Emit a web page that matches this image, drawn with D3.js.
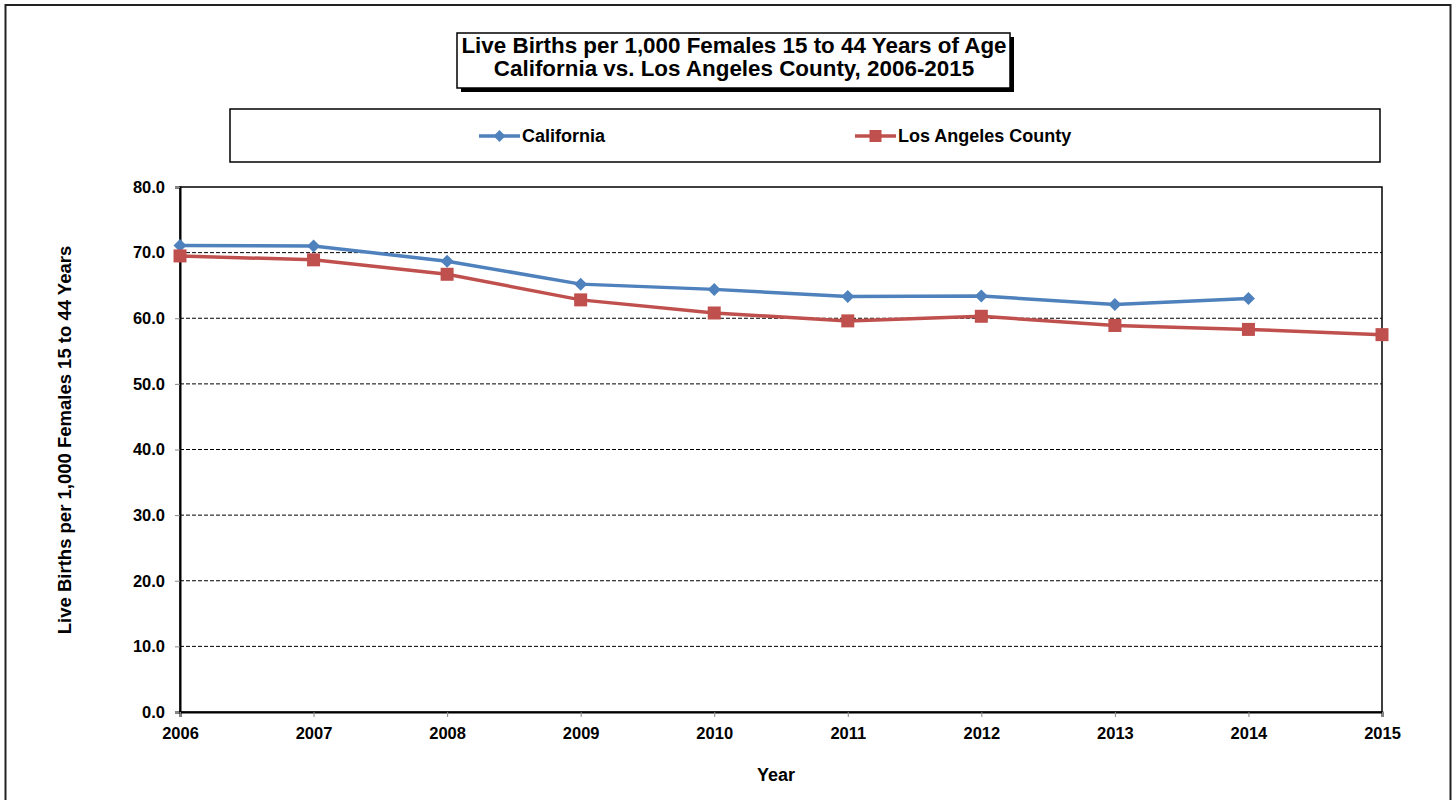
<!DOCTYPE html>
<html><head><meta charset="utf-8">
<script src="https://cdn.jsdelivr.net/npm/d3@7"></script>
<style>body{margin:0;background:#fff;font-family:"Liberation Sans",Arial,sans-serif;}</style>
</head><body>
<svg id="c" width="1453" height="800"></svg>
<script>
const years = [2006,2007,2008,2009,2010,2011,2012,2013,2014,2015];
const california = [71.1,71.0,68.7,65.2,64.4,63.3,63.4,62.1,63.0,null];
const losAngeles = [69.5,68.9,66.7,62.8,60.8,59.6,60.3,58.9,58.3,57.5];
const yTicks = [0,10,20,30,40,50,60,70,80];
const titleLines = ["Live Births per 1,000 Females 15 to 44 Years of Age","California vs. Los Angeles County, 2006-2015"];
const seriesNames = ["California","Los Angeles County"];
const colors = ["#4f81bd","#c0504d"];

const svg = d3.select("#c");
const F = "'Liberation Sans', Arial, sans-serif";
// outer frame
svg.append("rect").attr("x",5.5).attr("y",5).attr("width",1445).attr("height",805)
  .attr("fill","none").attr("stroke","#222").attr("stroke-width",2);

const L=180, R=1382, T=187, B=712;
const x = d3.scalePoint().domain(years).range([L,R]);
const y = d3.scaleLinear().domain([0,80]).range([B,T]);

// gridlines
svg.append("g").selectAll("line").data(yTicks.filter(v=>v>0&&v<80)).join("line")
  .attr("x1",L).attr("x2",R).attr("y1",d=>y(d)).attr("y2",d=>y(d))
  .attr("stroke","#000").attr("stroke-width",1).attr("stroke-dasharray","4,2");

// plot frame
svg.append("rect").attr("x",L).attr("y",T).attr("width",R-L).attr("height",B-T)
  .attr("fill","none").attr("stroke","#000").attr("stroke-width",1.5);

// axes
const yAxis = svg.append("g").attr("transform",`translate(${L},0)`)
  .call(d3.axisLeft(y).tickValues(yTicks).tickFormat(d3.format(".1f")).tickSize(5).tickPadding(10));
const xAxis = svg.append("g").attr("transform",`translate(0,${B})`)
  .call(d3.axisBottom(x).tickSize(5).tickPadding(10));
[yAxis,xAxis].forEach(a=>{
  a.attr("font-size",16).attr("font-family",F);
  a.select(".domain").attr("stroke","#000").attr("stroke-width",2);
  a.selectAll(".tick line").attr("stroke","#888");
  a.selectAll(".tick text").attr("font-family",F).attr("font-weight","bold").attr("font-size",16.5).attr("fill","#000");
});

// axis titles
svg.append("text").attr("x",776).attr("y",781).attr("text-anchor","middle")
  .attr("font-family",F).attr("font-weight","bold").attr("font-size",18).text("Year");
svg.append("text").attr("transform","translate(71,440) rotate(-90)").attr("text-anchor","middle")
  .attr("font-family",F).attr("font-weight","bold").attr("font-size",18.5)
  .text("Live Births per 1,000 Females 15 to 44 Years");

// lines
const line = d3.line().defined(d=>d.v!=null).x(d=>x(d.yr)).y(d=>y(d.v));
const data = [california, losAngeles].map(s=>years.map((yr,i)=>({yr, v:s[i]})));
data.forEach((s,i)=>{
  svg.append("path").datum(s).attr("d",line).attr("fill","none")
    .attr("stroke",colors[i]).attr("stroke-width",3.5);
});
// markers
svg.append("g").selectAll("path").data(data[0].filter(d=>d.v!=null)).join("path")
  .attr("transform",d=>`translate(${x(d.yr)},${y(d.v)})`)
  .attr("d","M0,-6.5L6.5,0L0,6.5L-6.5,0Z").attr("fill",colors[0]);
svg.append("g").selectAll("rect").data(data[1]).join("rect")
  .attr("x",d=>x(d.yr)-6.5).attr("y",d=>y(d.v)-6.5).attr("width",13).attr("height",13)
  .attr("fill",colors[1]);

// title box
svg.append("rect").attr("x",461).attr("y",37).attr("width",553).attr("height",55).attr("fill","#000");
svg.append("rect").attr("x",457).attr("y",33).attr("width",553).attr("height",55)
  .attr("fill","#fff").attr("stroke","#000").attr("stroke-width",1.5);
titleLines.forEach((t,i)=>{
  svg.append("text").attr("x",734).attr("y",53+i*23).attr("text-anchor","middle")
    .attr("font-family",F).attr("font-weight","bold").attr("font-size",22.4).text(t);
});

// legend box
svg.append("rect").attr("x",230).attr("y",109).attr("width",1150).attr("height",53)
  .attr("fill","#fff").attr("stroke","#000").attr("stroke-width",1.5);
const lx = [479,855];
seriesNames.forEach((n,i)=>{
  const g = svg.append("g").attr("transform",`translate(${lx[i]},136)`);
  g.append("line").attr("x1",0).attr("x2",41).attr("stroke",colors[i]).attr("stroke-width",3.5);
  if(i===0) g.append("path").attr("d","M20.5,-6L26.5,0L20.5,6L14.5,0Z").attr("fill",colors[i]);
  else g.append("rect").attr("x",14.5).attr("y",-6).attr("width",12).attr("height",12).attr("fill",colors[i]);
  g.append("text").attr("x",43).attr("y",6).attr("font-family",F).attr("font-weight","bold")
    .attr("font-size",18).text(n);
});
</script>
</body></html>
